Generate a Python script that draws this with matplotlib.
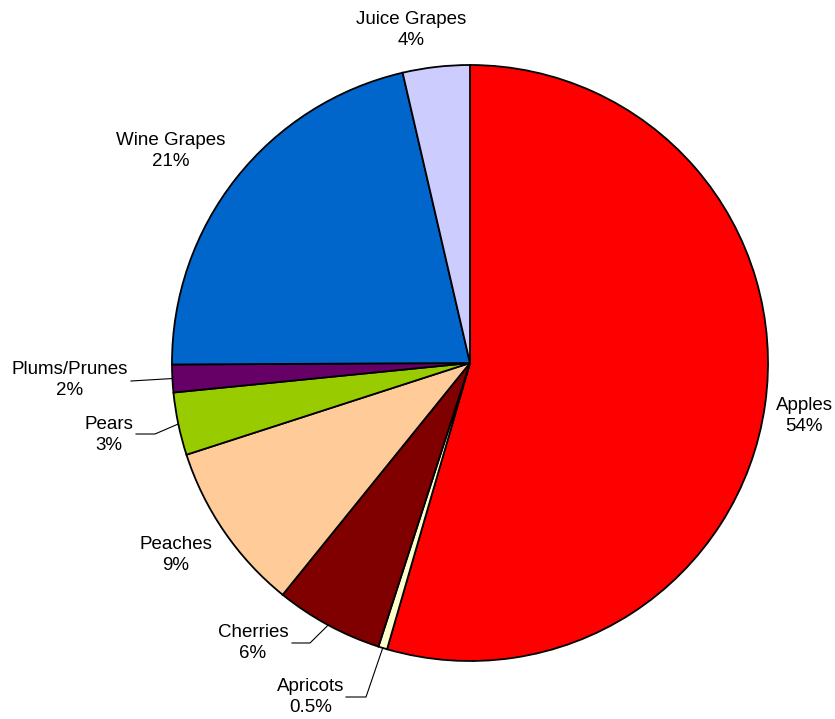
import numpy as np
import matplotlib.pyplot as plt

plt.rcParams['font.family'] = ['Liberation Sans', 'DejaVu Sans']

# Share of fruit production by crop
crops = ["Apples", "Apricots", "Cherries", "Peaches", "Pears",
         "Plums/Prunes", "Wine Grapes", "Juice Grapes"]
shares = [54.49, 0.48, 5.85, 9.2, 3.4, 1.5, 21.45, 3.63]
colors = ["#FF0000", "#FFFFCC", "#800000", "#FFCC99", "#99CC00",
          "#660066", "#0066CC", "#CCCCFF"]

# label centres (pixels from top-left) and leader elbows
W, H = 835, 719
cx, cy, R = 470, 363, 298
label_px = {
    "Apples": (804, 416),
    "Apricots": (311, 697),
    "Cherries": (253, 643),
    "Peaches": (176, 555),
    "Pears": (109, 435),
    "Plums/Prunes": (70, 380),
    "Wine Grapes": (171, 151),
    "Juice Grapes": (411, 30),
}
leaders = {
    "Apricots": [(366, 697), (346, 697)],
    "Cherries": [(310, 643), (292, 643)],
    "Pears": [(155, 434), (136, 434)],
    "Plums/Prunes": [(131, 381)],
}


def px(x, y):
    return (x - cx) / R, (cy - y) / R


fig = plt.figure(figsize=(W / 100, H / 100), dpi=100)
ax = fig.add_axes([0, 0, 1, 1])

wedges, _ = ax.pie(shares, colors=colors, startangle=90, counterclock=False,
                   radius=1.0, center=(0, 0), frame=True,
                   wedgeprops=dict(edgecolor='black', linewidth=1.3))
ax.set_xlim(-cx / R, (W - cx) / R)
ax.set_ylim(-(H - cy) / R, cy / R)
ax.set_aspect('equal')
ax.axis('off')

total = sum(shares)
for w, name, val in zip(wedges, crops, shares):
    pct = val / total * 100
    txt = f"{pct:.1f}%" if pct < 1 else f"{round(pct):d}%"
    tx, ty = px(*label_px[name])
    ax.text(tx, ty, f"{name}\n{txt}", ha='center', va='center',
            fontsize=13.5, linespacing=1.25)
    if name in leaders:
        mid = np.deg2rad((w.theta1 + w.theta2) / 2)
        pts = [(np.cos(mid), np.sin(mid))] + [px(*p) for p in leaders[name]]
        xs, ys = zip(*pts)
        ax.plot(xs, ys, color='black', linewidth=0.8)

fig.savefig("out.png", dpi=100)
